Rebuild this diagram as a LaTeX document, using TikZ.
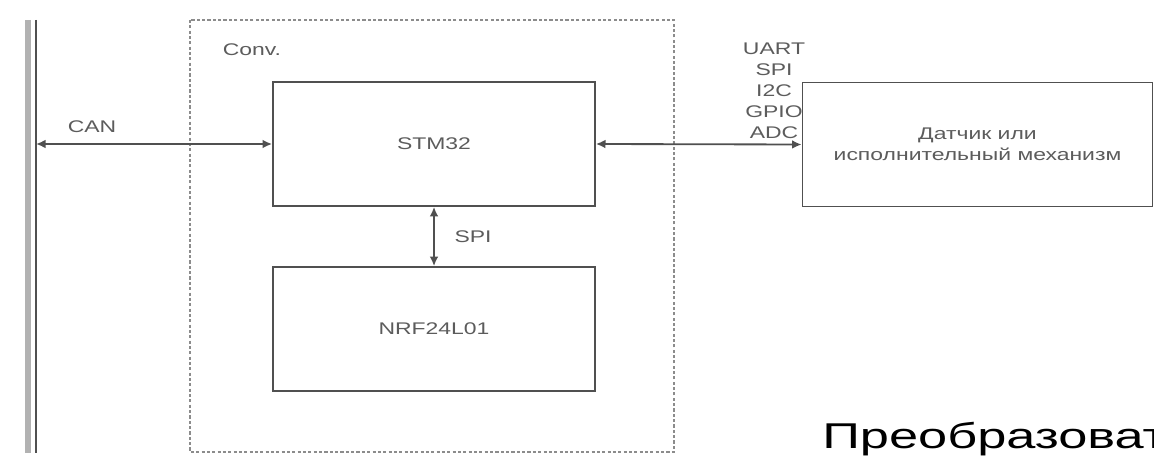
\documentclass[tikz,border=0pt]{standalone}
\usepackage{fontspec}
\setmainfont{Liberation Sans}[FakeStretch=1.36]
\newfontfamily\titlefont{Liberation Sans}[FakeStretch=1.46]
\usetikzlibrary{arrows.meta}
\definecolor{linegray}{HTML}{505050}
\definecolor{textgray}{HTML}{5C5C5C}
\tikzstyle{arrow} = [line width=1.3pt, draw=linegray, <->, >={Latex[length=2.4mm,width=2.2mm]}]
\tikzstyle{block} = [draw=linegray, line width=1.2pt, minimum width=8.05cm, minimum height=3.1cm, text=textgray, align=center, inner sep=0pt]
\tikzstyle{lbl} = [text=textgray, font=\fontsize{12}{15}\selectfont, align=center, inner sep=0pt]

\begin{document}
\begin{tikzpicture}[x=0.025cm, y=-0.025cm, font=\fontsize{12}{15}\selectfont]
  \useasboundingbox (0,0) rectangle (1154,459);
  % CAN bus
  \draw[line width=4pt, draw=black!30] (28,20) -- (28,453);
  \draw[line width=1.6pt, draw=linegray] (36,20) -- (36,453);
  \coordinate (can) at (36,144);
  % converter frame
  \draw[draw=black!45, line width=1.5pt, dash pattern=on 2.2pt off 1.6pt] (190,20) rectangle (674,452);
  \node[lbl] (conv) at (252,50) {Conv.};
  % blocks
  \node[block] (stm) at (434,144) {STM32};
  \node[block] (nrf) at (434,329) {NRF24L01};
  \node[block, minimum width=8.75cm] (dev) at (977.5,144.5) {Датчик или\\исполнительный механизм};
  % links
  \draw[arrow] (can) -- (stm.west);
  \draw[arrow] (stm.south) -- (nrf.north);
  \draw[arrow] (stm.east) -- (dev.west);
  \node[lbl] (canlbl) at (92,127) {CAN};
  \node[lbl] (spilbl) at (473,237) {SPI};
  \node[lbl, anchor=south] (ifs) at (774,139) {UART\\SPI\\I2C\\GPIO\\ADC};
  % title
  \node[anchor=base west, inner sep=0pt, font=\titlefont\fontsize{25.5}{30}\selectfont] (title) at (822,448) {Преобразоват};
\end{tikzpicture}
\end{document}
